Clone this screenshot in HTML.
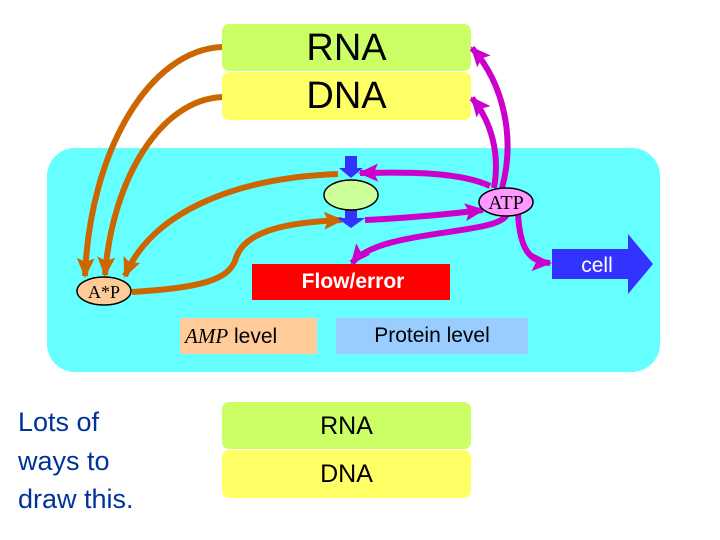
<!DOCTYPE html>
<html><head><style>
body{margin:0;width:720px;height:540px;background:#fff;overflow:hidden;position:relative;font-family:"Liberation Sans",sans-serif}
.a{position:absolute}
</style></head><body>
<div class="a" style="left:47px;top:148px;width:613px;height:224px;background:#66ffff;border-radius:28px"></div>
<div class="a" style="left:222px;top:24px;width:249px;height:47px;background:#ccff66;border-radius:7px;font-size:38px;text-align:center;line-height:48px">RNA</div>
<div class="a" style="left:222px;top:72px;width:249px;height:48px;background:#ffff66;border-radius:7px;font-size:38px;text-align:center;line-height:48px">DNA</div>
<div class="a" style="left:222px;top:402px;width:249px;height:47px;background:#ccff66;border-radius:7px;font-size:25px;line-height:49px;text-align:center">RNA</div>
<div class="a" style="left:222px;top:450px;width:249px;height:48px;background:#ffff66;border-radius:7px;font-size:25px;line-height:48px;text-align:center">DNA</div>
<div class="a" style="left:252px;top:264px;width:198px;height:36px;background:#f00;color:#fff;font-weight:bold;font-size:21px;line-height:36px;text-align:center;padding-left:4px;box-sizing:border-box">Flow/error</div>
<div class="a" style="left:180px;top:318px;width:137px;height:36px;background:#ffcc99;font-size:21px;line-height:36px;padding-left:5px;box-sizing:border-box"><i style="font-family:'Liberation Serif',serif">AMP</i> level</div>
<div class="a" style="left:336px;top:318px;width:192px;height:36px;background:#99ccff;font-size:21px;line-height:36px;text-align:center">Protein level</div>
<div class="a" style="left:18px;top:403px;font-size:27px;line-height:38.5px;color:#003399">Lots of<br>ways to<br>draw this.</div>
<svg class="a" style="left:0;top:0" width="720" height="540">
<defs>
<marker id="o" markerWidth="20" markerHeight="18" refX="18" refY="9" orient="auto" markerUnits="userSpaceOnUse"><path d="M0,0L20,9L0,18L4,9z" fill="#cc6600"/></marker>
<marker id="m" markerWidth="20" markerHeight="18" refX="18" refY="9" orient="auto" markerUnits="userSpaceOnUse"><path d="M0,0L20,9L0,18L4,9z" fill="#cc00cc"/></marker>
</defs>
<g fill="none" stroke-width="6">
<path d="M222,47 C150,50 90,150 85,276" stroke="#cc6600" marker-end="url(#o)"/>
<path d="M222,97 C160,100 112,180 105,275" stroke="#cc6600" marker-end="url(#o)"/>
<path d="M338,174 C230,178 150,215 125,276" stroke="#cc6600" marker-end="url(#o)"/>
<path d="M132,292 C200,288 230,280 236,258 C245,230 290,222 342,220" stroke="#cc6600" marker-end="url(#o)"/>
<path d="M502,188 C515,140 505,85 472,48" stroke="#cc00cc" marker-end="url(#m)"/>
<path d="M494,188 C500,155 492,122 472,98" stroke="#cc00cc" marker-end="url(#m)"/>
<path d="M490,186 C460,172 410,172 360,173" stroke="#cc00cc" marker-end="url(#m)"/>
<path d="M365,220 C410,218 450,214 483,210" stroke="#cc00cc" marker-end="url(#m)"/>
<path d="M507,214 C500,236 380,228 352,263" stroke="#cc00cc" marker-end="url(#m)"/>
<path d="M518,214 C520,250 530,262 550,263" stroke="#cc00cc" marker-end="url(#m)"/>
</g>
<path d="M345,156h12v12h6l-12,10l-12,-10h6z" fill="#3333ff"/>
<path d="M345,209h12v9h8l-14,10l-14,-10h8z" fill="#3333ff"/>
<ellipse cx="351" cy="195" rx="27" ry="15" fill="#ccff99" stroke="#000" stroke-width="1.5"/>
<ellipse cx="506" cy="202" rx="27" ry="14" fill="#ff99ff" stroke="#000" stroke-width="1.5"/>
<text x="506" y="209" font-family="Liberation Serif" font-size="20" text-anchor="middle">ATP</text>
<ellipse cx="104" cy="291" rx="27" ry="14" fill="#ffcc99" stroke="#000" stroke-width="1.5"/>
<text x="104" y="298" font-family="Liberation Serif" font-size="18" text-anchor="middle">A*P</text>
<path d="M552,249h76v-15l25,30l-25,30v-15h-76z" fill="#3333ff"/>
<text x="597" y="272" font-family="Liberation Sans" font-size="21" fill="#fff" text-anchor="middle">cell</text>
</svg>
</body></html>
